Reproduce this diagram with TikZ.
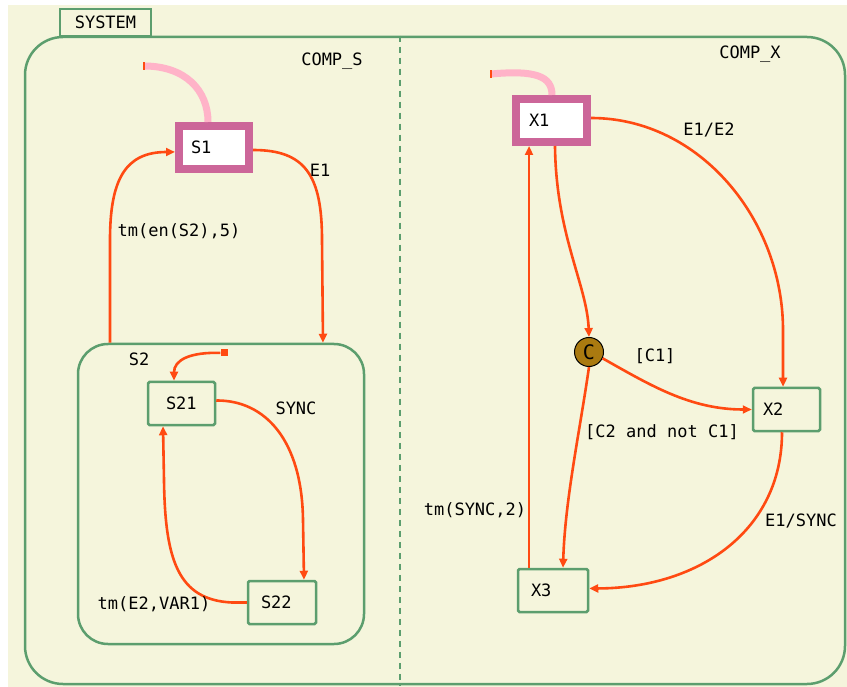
\documentclass[tikz,border=0pt]{standalone}
\usepackage{fontspec}
\setmonofont{DejaVu Sans Mono}
\usetikzlibrary{arrows.meta}
\definecolor{cream}{HTML}{F5F5DC}
\definecolor{sgreen}{HTML}{5C9E6E}
\definecolor{tred}{HTML}{FF4A12}
\definecolor{mag}{HTML}{CC6699}
\definecolor{pinkline}{HTML}{FFB3C8}
\definecolor{cfill}{HTML}{AA7A10}
\begin{document}
\begin{tikzpicture}[x=1pt,y=-1pt,
  every node/.style={font=\ttfamily\fontsize{17}{20}\selectfont, text=black},
  lbl/.style={inner sep=0pt},
  container/.style={draw=sgreen, line width=2.5pt, rectangle, inner sep=0pt},
  state/.style={draw=sgreen, line width=2.5pt, fill=cream, rectangle, rounded corners=1.5pt, minimum height=43pt, align=left, inner ysep=0pt},
  active/.style={draw=mag, line width=8pt, fill=white, rectangle, minimum height=43pt, align=left, inner ysep=0pt},
  tr/.style={draw=tred, line width=2.6pt, -{Triangle[length=9pt,width=8pt]}},
  initline/.style={draw=pinkline, line width=7pt},
  tick/.style={fill=tred, inner sep=0pt, minimum width=2.5pt, minimum height=8pt},
  initsq/.style={fill=tred, inner sep=0pt, minimum size=7pt},
  conn/.style={circle, draw=black, line width=1pt, fill=cfill, minimum size=29pt, inner sep=0pt, font=\ttfamily\fontsize{20}{22}\selectfont}
]
\useasboundingbox (0,0) rectangle (847,687);
\fill[cream] (8,5) rectangle (847,687);

% containers
\node[container, rounded corners=38pt, minimum width=820pt, minimum height=647pt] (sys) at (435,360.5) {};
\node[container, fill=cream, minimum width=91pt, minimum height=27pt] (tab) at (105.5,22.5) {SYSTEM};
\draw[sgreen, line width=2.5pt, dash pattern=on 6pt off 5pt] (400,0 |- sys.north) -- (400,0 |- sys.south);
\node[lbl] (comps) at (332,61) {COMP\_S};
\node[lbl] (compx) at (750,54) {COMP\_X};

\node[container, rounded corners=30pt, minimum width=286pt, minimum height=300pt] (s2) at (221,494) {};
\node[lbl] (s2l) at (139,359) {S2};

% states
\node[active, text width=46pt, inner xsep=12pt] (s1) at (214,147.5) {S1};
\node[active, text width=45pt, inner xsep=13pt] (x1) at (551.5,120.5) {X1};
\node[state, text width=31pt, inner xsep=18pt] (s21) at (181.5,403.5) {S21};
\node[state, text width=42pt, inner xsep=13pt] (s22) at (282,602.5) {S22};
\node[state, text width=47pt, inner xsep=10pt] (x2) at (786.5,409.5) {X2};
\node[state, text width=44pt, inner xsep=13pt] (x3) at (553,590.5) {X3};
\node[conn] (c) at (589,352) {C};

% default transitions
\coordinate (p1) at (144,66);
\draw[initline] (p1) .. controls (185,66) and (208,90) .. (208,0 |- s1.north);
\node[tick] (p1t) at (p1) {};
\coordinate (p2) at (491,74);
\draw[initline] (p2) .. controls (535,70) and (552,76) .. (552,0 |- x1.north);
\node[tick] (p2t) at (p2) {};
\node[initsq] (p3) at (224,353) {};
\draw[tr] (p3) .. controls (190,352) and (174,360) .. (174,0 |- s21.north);

% COMP_S transitions
\draw[tr] ([yshift=-2.5pt]s1.east) .. controls (305,150) and (322,175) .. (322,240) -- (323,0 |- s2.north);
\node[lbl] (le1) at (320,170) {E1};
\draw[tr] (110,0 |- s2.north) -- (110,240) .. controls (110,180) and (125,152) .. ([yshift=-4.5pt]s1.west);
\node[lbl] (ltm1) at (179,231) {tm(en(S2),5)};

\draw[tr] ([yshift=3pt]s21.east) .. controls (265,400) and (302,440) .. (303,520) -- (304,0 |- s22.north);
\node[lbl] (lsync) at (296,408) {SYNC};
\draw[tr] (s22.west) -- (232,602.5) .. controls (178,600) and (165,560) .. (164,480) -- (163,0 |- s21.south);
\node[lbl] (ltm2) at (154,604) {tm(E2,VAR1)};

% COMP_X transitions
\draw[tr] ([yshift=2.5pt]x1.east) .. controls (700,118) and (783,220) .. (783,330) -- (783,0 |- x2.north);
\node[lbl] (le12) at (709,130) {E1/E2};
\draw[tr] (555,0 |- x1.south) .. controls (556,235) and (587,285) .. (c.north);
\draw[tr] (c.-25) .. controls (650,385) and (690,409.5) .. (x2.west);
\node[lbl] (lc1) at (655,356) {[C1]};
\draw[tr] (c.south) .. controls (580,430) and (565,500) .. (563,0 |- x3.north);
\node[lbl] (lc2) at (662,432) {[C2 and not C1]};
\draw[tr] (529,0 |- x3.north) -- (529,0 |- x1.south);
\node[lbl] (ltm3) at (475,510) {tm(SYNC,2)};
\draw[tr] (782,0 |- x2.south) .. controls (782,530) and (700,588) .. ([yshift=2pt]x3.east);
\node[lbl] (le1s) at (801,521) {E1/SYNC};
\end{tikzpicture}
\end{document}
